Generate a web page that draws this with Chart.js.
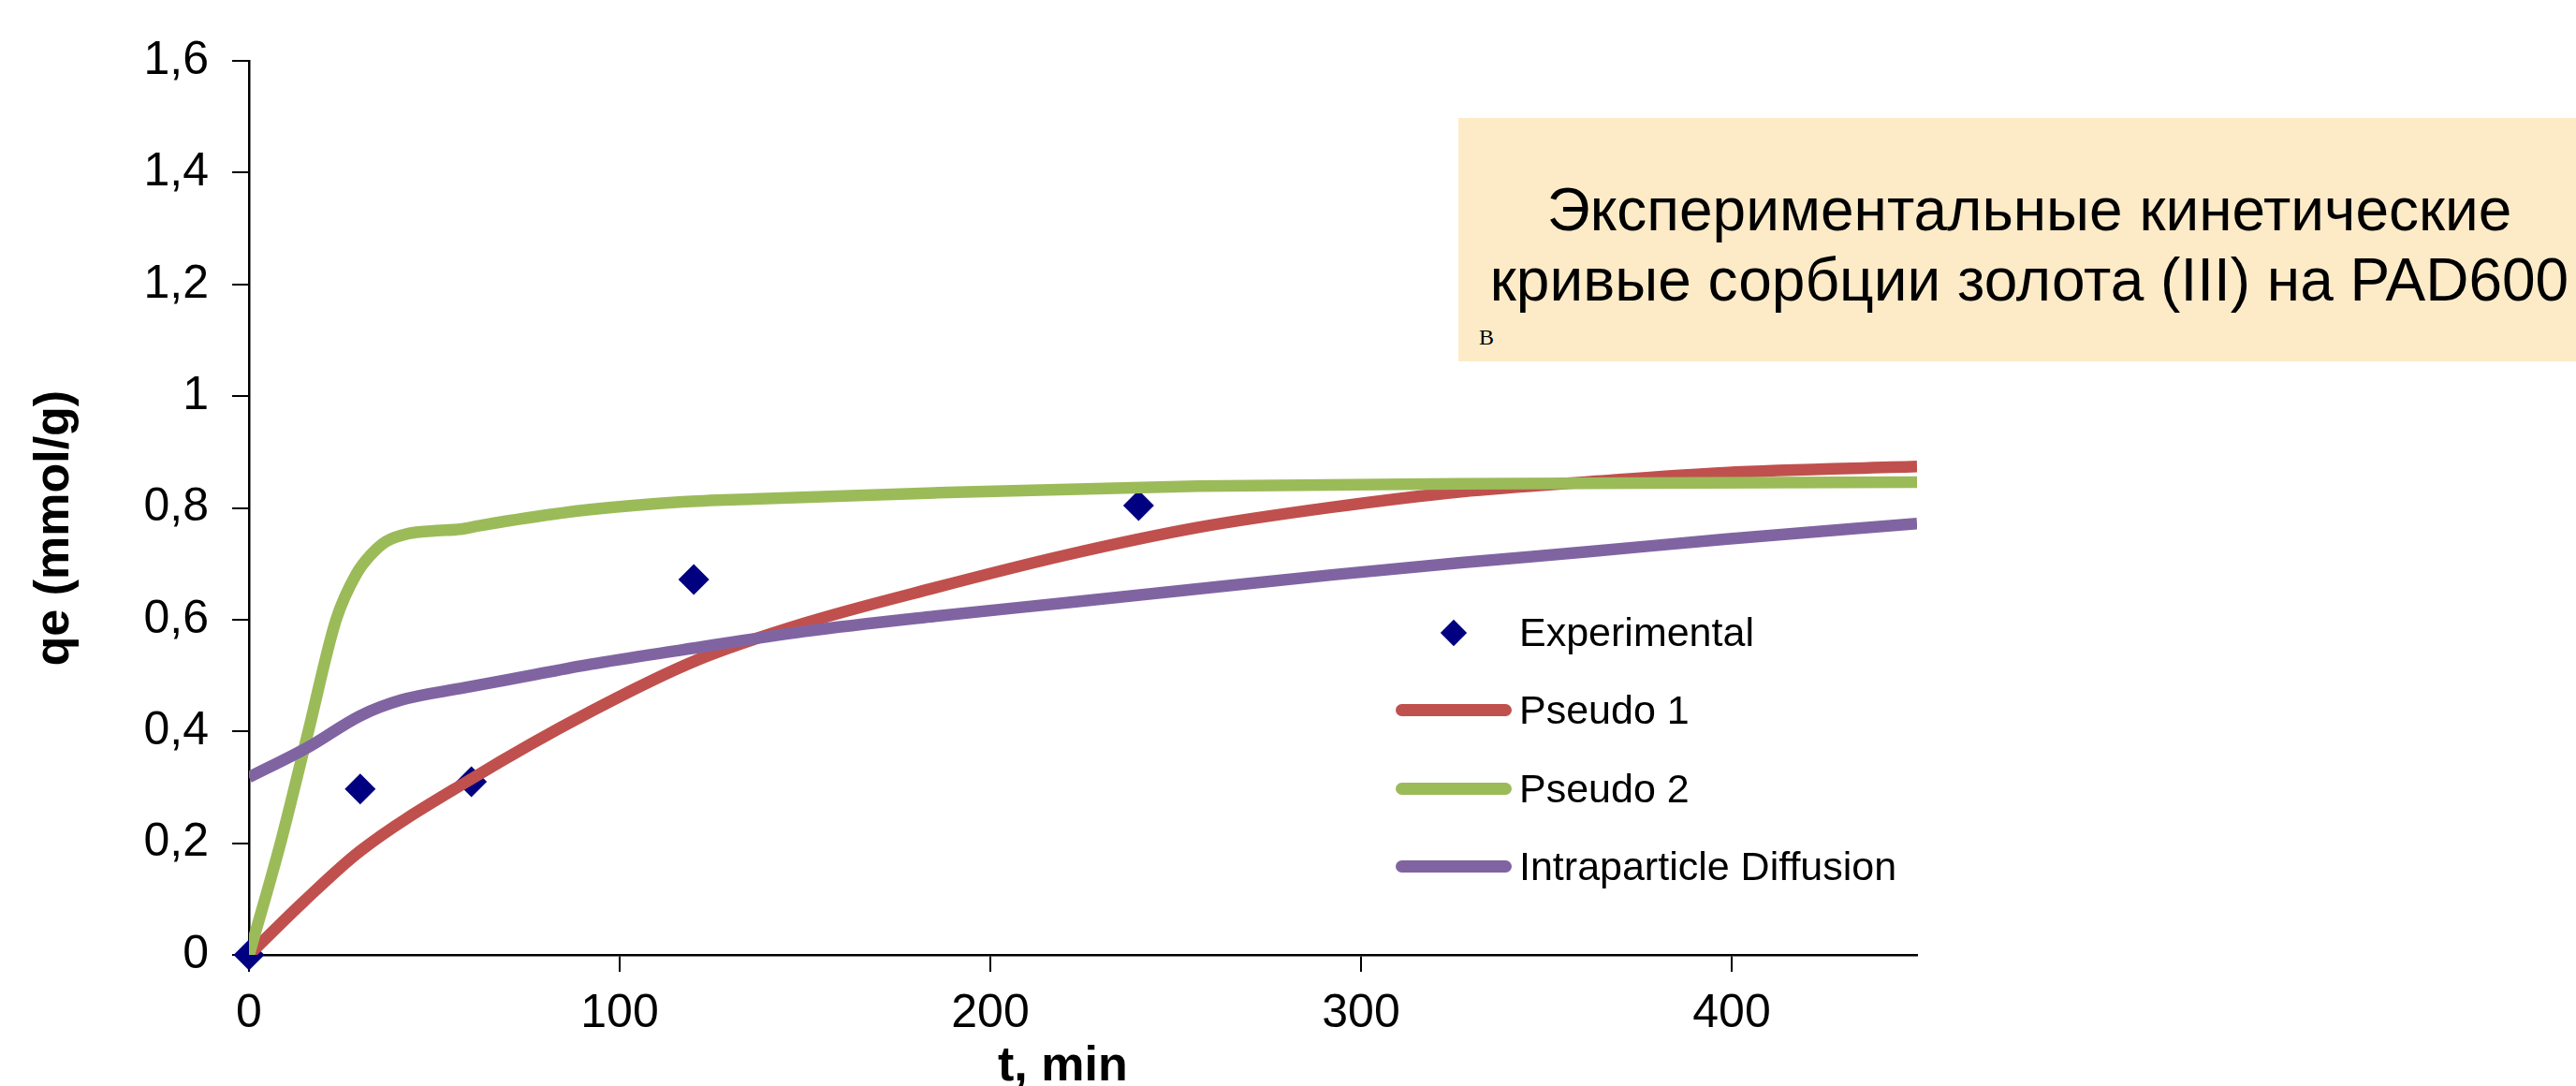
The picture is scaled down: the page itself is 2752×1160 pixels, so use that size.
<!DOCTYPE html>
<html lang="ru">
<head>
<meta charset="utf-8">
<title>Кинетические кривые сорбции золота (III) на PAD600</title>
<script src="https://cdn.jsdelivr.net/npm/chart.js@4.4.1/dist/chart.umd.min.js"></script>
<style>
    html, body { margin: 0; padding: 0; background: #fff; overflow: hidden; }
    #wrap { position: relative; width: 2752px; height: 1160px; overflow: hidden; }
    #kinetics { display: block; }

    /* beige note box in the upper right */
    .note {
        position: absolute; left: 1558px; top: 126px;
        width: 1220px; height: 260px; box-sizing: border-box;
        padding-top: 61px;
        background: #fdebc8; color: #000;
        font-family: 'Liberation Sans', Arial, sans-serif;
        font-size: 64px; line-height: 75px;
        text-align: center; white-space: nowrap;
    }
    .note .mark {
        position: absolute; left: 22px; top: 222px;
        font: 24px/24px 'Liberation Serif', 'Times New Roman', serif;
    }

    /* legend sits inside the plot, like the original */
    .legend {
        position: absolute; left: 1491px; top: 634px;
        font: 43px 'Liberation Sans', Arial, sans-serif; color: #000;
    }
    .legend-row { display: flex; align-items: center; height: 83.3px; white-space: nowrap; }
    .legend-key { position: relative; width: 124px; height: 100%; margin-right: 8px; }
    .legend-line {
        position: absolute; left: 0; right: 0; top: 50%;
        height: 13px; margin-top: -6.5px; border-radius: 7px;
    }
    .legend-diamond {
        position: absolute; left: 50%; top: 50%;
        width: 20px; height: 20px; margin: -10px 0 0 -10px;
        transform: rotate(45deg);
    }
</style>
</head>
<body>
<div id="wrap">
    <canvas id="kinetics" width="2752" height="1160"></canvas>
    <div class="note">
        Экспериментальные кинетические<br>кривые сорбции золота (III) на PAD600
        <span class="mark">В</span>
    </div>
    <div class="legend" id="legend"></div>
</div>

<script>
// Experimental points (t, min / qe, mmol/g)
const expTime = [0, 30, 60, 120, 240];
const expQe = [0, 0.297, 0.31, 0.672, 0.804];

// Pseudo first order fit
const p1Time = [0, 15, 30, 60, 92, 121, 150, 185, 220, 256, 292, 327, 362, 398, 450];
const p1Qe = [0, 0.097, 0.186, 0.315, 0.435, 0.528, 0.594, 0.657, 0.715, 0.765, 0.801, 0.829, 0.847, 0.863, 0.874];

// Pseudo second order fit
const p2Time = [0, 8.5, 16, 23.5, 29, 33, 37, 43, 50, 57, 62, 75, 92, 117, 136, 185, 256, 327, 450];
const p2Qe = [0, 0.2, 0.4, 0.6, 0.682, 0.717, 0.74, 0.754, 0.759, 0.762, 0.768, 0.782, 0.797, 0.811, 0.816, 0.827, 0.839, 0.843, 0.846];

// Intraparticle diffusion fit
const idTime = [0, 16, 30, 41, 58, 75, 92, 117, 150, 185, 220, 256, 292, 327, 362, 398, 450];
const idQe = [0.318, 0.372, 0.428, 0.456, 0.478, 0.499, 0.52, 0.546, 0.579, 0.606, 0.63, 0.655, 0.68, 0.702, 0.722, 0.744, 0.772];

// Axis ticks
const yTickValues = [0, 0.2, 0.4, 0.6, 0.8, 1, 1.2, 1.4, 1.6];
const yTickLabels = ['0', '0,2', '0,4', '0,6', '0,8', '1', '1,2', '1,4', '1,6'];

const FONT = "'Liberation Sans', Arial, sans-serif";

function toPoints(xs, ys) {
    return xs.map((x, i) => ({ x: x, y: ys[i] }));
}

function fitLine(label, xs, ys, color, order) {
    return {
        label: label,
        data: toPoints(xs, ys),
        showLine: true,
        borderColor: color,
        backgroundColor: color,
        borderWidth: 12.5,
        pointRadius: 0,
        pointHoverRadius: 0,
        cubicInterpolationMode: 'monotone',
        order: order
    };
}

// Axis styling shared by both scales
function axisLines() {
    return {
        border: { display: true, color: '#000', width: 2.5 },
        grid: { drawOnChartArea: false, drawTicks: true, tickLength: 18, color: '#000', lineWidth: 2 }
    };
}

const ctx = document.getElementById('kinetics').getContext('2d');
const chart = new Chart(ctx, {
    type: 'scatter',
    data: {
        datasets: [
            {
                label: 'Experimental',
                data: toPoints(expTime, expQe),
                showLine: false,
                pointStyle: 'rectRot',
                pointRadius: 16.5,
                pointHoverRadius: 16.5,
                pointBackgroundColor: '#000080',
                pointBorderColor: '#000080',
                pointBorderWidth: 0,
                backgroundColor: '#000080',
                borderColor: '#000080',
                clip: false,
                order: 4
            },
            fitLine('Pseudo 1', p1Time, p1Qe, '#c0504d', 3),
            fitLine('Pseudo 2', p2Time, p2Qe, '#9bbb59', 2),
            fitLine('Intraparticle Diffusion', idTime, idQe, '#8064a2', 1)
        ]
    },
    options: {
        responsive: false,
        animation: false,
        layout: { padding: { top: 65, right: 704, bottom: 0, left: 0 } },
        plugins: {
            legend: { display: false },
            tooltip: { enabled: false }
        },
        scales: {
            x: {
                type: 'linear',
                min: 0,
                max: 450,
                afterFit: function(scale) { scale.height = 140; },
                ...axisLines(),
                ticks: {
                    stepSize: 100,
                    includeBounds: false,
                    padding: 15,
                    maxRotation: 0,
                    color: '#000',
                    font: { family: FONT, size: 50 }
                },
                title: {
                    display: true,
                    text: 't, min   ',
                    color: '#000',
                    font: { family: FONT, size: 52, weight: 'bold', lineHeight: 0.8 },
                    padding: { top: 0, bottom: 0 }
                }
            },
            y: {
                type: 'linear',
                min: 0,
                max: 1.6,
                afterFit: function(scale) { scale.width = 266; },
                ...axisLines(),
                ticks: {
                    stepSize: 0.2,
                    padding: 25,
                    color: '#000',
                    font: { family: FONT, size: 50 },
                    callback: function(value) {
                        const i = yTickValues.findIndex(t => Math.abs(t - value) < 1e-6);
                        return i >= 0 ? yTickLabels[i] : '';
                    }
                },
                title: {
                    display: true,
                    text: 'qe (mmol/g)   ',
                    color: '#000',
                    font: { family: FONT, size: 52, weight: 'bold' },
                    padding: { top: 27, bottom: 0 }
                }
            }
        }
    }
});

// Legend built from the chart's own datasets
function buildLegend() {
    const box = document.getElementById('legend');
    chart.data.datasets.forEach(ds => {
        const row = document.createElement('div');
        row.className = 'legend-row';
        const key = document.createElement('div');
        key.className = 'legend-key';
        const mark = document.createElement('div');
        mark.className = ds.showLine ? 'legend-line' : 'legend-diamond';
        mark.style.background = ds.showLine ? ds.borderColor : ds.pointBackgroundColor;
        key.appendChild(mark);
        const text = document.createElement('span');
        text.textContent = ds.label;
        row.appendChild(key);
        row.appendChild(text);
        box.appendChild(row);
    });
}

buildLegend();
</script>
</body>
</html>
